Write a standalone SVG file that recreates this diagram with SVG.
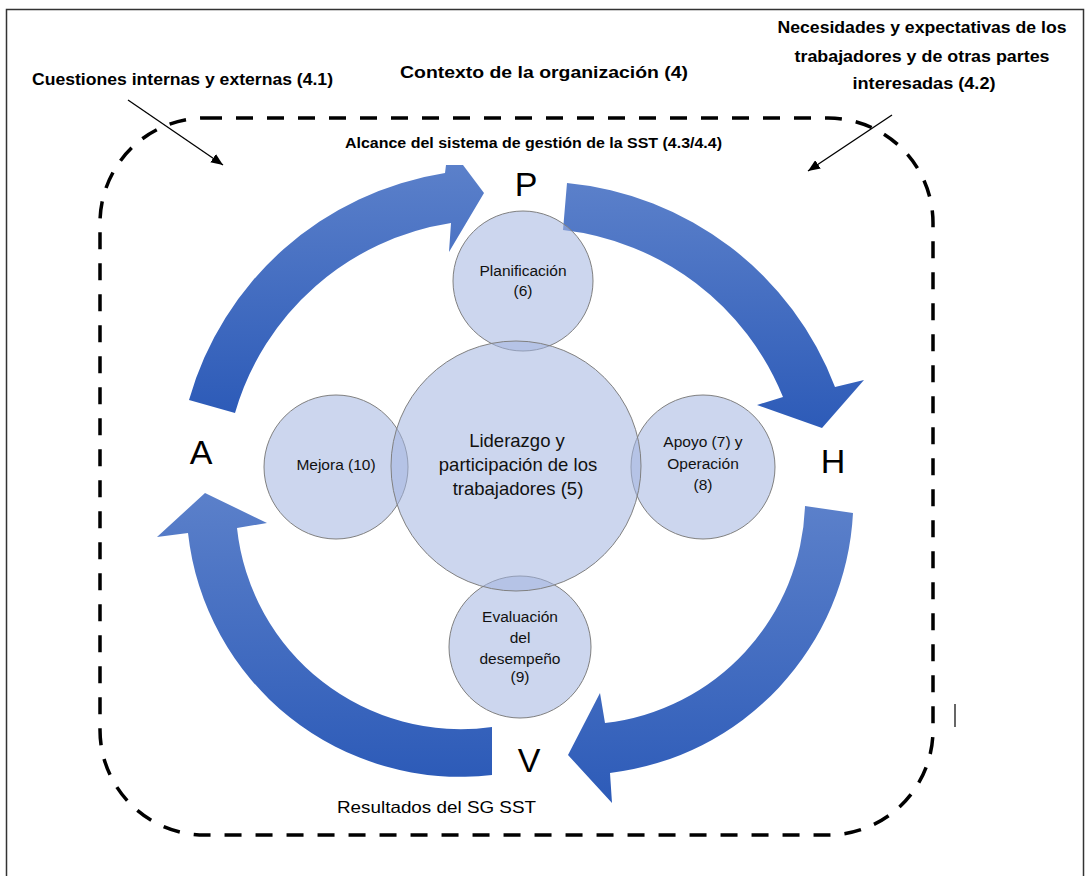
<svg xmlns="http://www.w3.org/2000/svg" width="1085" height="876" viewBox="0 0 1085 876">
  <defs>
    <linearGradient id="blueGrad" x1="0" y1="0" x2="0" y2="1">
      <stop offset="0" stop-color="#5b80ca"/>
      <stop offset="1" stop-color="#2d5bb8"/>
    </linearGradient>
    <marker id="arrowHead" viewBox="0 0 12 10" refX="12" refY="5" markerWidth="12" markerHeight="10" markerUnits="userSpaceOnUse" orient="auto">
      <path d="M0,0 L12,5 L0,10 z" fill="#000"/>
    </marker>
    <style>
      .lbl { font-family: "Liberation Sans", Arial, sans-serif; fill: #000; }
      .bold { font-weight: bold; }
      .big { font-size: 34px; text-anchor: middle; }
      .circ { fill: #a3b4e0; fill-opacity: 0.55; stroke: #808080; stroke-width: 1; }
      .ctext { font-family: "Liberation Sans", Arial, sans-serif; fill: #111; text-anchor: middle; font-size: 15.5px; }
      .ltext { font-family: "Liberation Sans", Arial, sans-serif; fill: #111; text-anchor: middle; font-size: 18.5px; }
      .cycle { fill: url(#blueGrad); }
      .pointer { stroke: #000; stroke-width: 1.3; fill: none; marker-end: url(#arrowHead); }
    </style>
  </defs>

  <rect x="0" y="0" width="1085" height="876" fill="#fff"/>

  <g id="frame">
    <rect x="6.5" y="9.5" width="1077" height="872" fill="none" stroke="#333" stroke-width="1.5"/>
  </g>

  <g id="scope-boundary">
    <rect x="100" y="118" width="833" height="717" rx="105" ry="105" fill="none" stroke="#000" stroke-width="3.5" stroke-dasharray="17 14"/>
  </g>

  <g id="texts-context">
    <text class="lbl bold" x="32" y="85" font-size="16.5" textLength="301" lengthAdjust="spacingAndGlyphs">Cuestiones internas y externas (4.1)</text>
    <text class="lbl bold" x="400" y="78" font-size="16.5" textLength="288" lengthAdjust="spacingAndGlyphs">Contexto de la organización (4)</text>
    <text class="lbl bold" x="922" y="33" font-size="16.5" text-anchor="middle" textLength="289" lengthAdjust="spacingAndGlyphs">Necesidades y expectativas de los</text>
    <text class="lbl bold" x="922" y="62" font-size="16.5" text-anchor="middle" textLength="255" lengthAdjust="spacingAndGlyphs">trabajadores y de otras partes</text>
    <text class="lbl bold" x="924" y="89" font-size="16.5" text-anchor="middle" textLength="143" lengthAdjust="spacingAndGlyphs">interesadas (4.2)</text>
    <text class="lbl bold" x="345" y="148" font-size="14" textLength="377" lengthAdjust="spacingAndGlyphs">Alcance del sistema de gestión de la SST (4.3/4.4)</text>
    <text class="lbl" x="337" y="813" font-size="16.5" textLength="199" lengthAdjust="spacingAndGlyphs">Resultados del SG SST</text>
  </g>

  <g id="connectors">
    <path id="arrow-A-P" class="cycle" d="M235,413 L189,400 A317,317 0 0 1 445,173 L446,165 L463,165 L484,193 L449,252 L451,223 A267,267 0 0 0 235,413 Z"/>
    <path id="arrow-P-H" class="cycle" d="M563,230 L567,183 A319,319 0 0 1 835,387 L864,380 L822,428 L757,405 L783,397 A270,270 0 0 0 563,230 Z"/>
    <path id="arrow-H-V" class="cycle" d="M805,506 L853,513 A276,276 0 0 1 610,773 L612,803 L568,755 L600,693 L605,723 A226,226 0 0 0 805,506 Z"/>
    <path id="arrow-V-A" class="cycle" d="M492,727 L492,775 A274,274 0 0 1 188,533 L157,537 L205,493 L267,523 L237,528 A225,225 0 0 0 492,727 Z"/>
    <line id="pointer-internal" class="pointer" x1="128" y1="100" x2="223" y2="165"/>
    <line id="pointer-needs" class="pointer" x1="892" y1="115" x2="808" y2="171"/>
  </g>

  <g id="node-P"><text class="lbl big" x="526" y="196">P</text></g>
  <g id="node-H"><text class="lbl big" x="833" y="473">H</text></g>
  <g id="node-A"><text class="lbl big" x="201" y="464">A</text></g>
  <g id="node-V"><text class="lbl big" x="529" y="772">V</text></g>

  <g id="node-planificacion">
    <circle class="circ" cx="523" cy="281" r="70"/>
    <text class="ctext" x="523" y="276">Planificación</text>
    <text class="ctext" x="523" y="296">(6)</text>
  </g>
  <g id="node-mejora">
    <circle class="circ" cx="336" cy="467" r="72"/>
    <text class="ctext" x="336" y="470">Mejora (10)</text>
  </g>
  <g id="node-apoyo">
    <circle class="circ" cx="703" cy="467" r="72"/>
    <text class="ctext" x="703" y="447">Apoyo (7) y</text>
    <text class="ctext" x="703" y="469">Operación</text>
    <text class="ctext" x="703" y="490">(8)</text>
  </g>
  <g id="node-evaluacion">
    <circle class="circ" cx="520" cy="647" r="71"/>
    <text class="ctext" x="520" y="622">Evaluación</text>
    <text class="ctext" x="520" y="643">del</text>
    <text class="ctext" x="520" y="664">desempeño</text>
    <text class="ctext" x="520" y="682">(9)</text>
  </g>
  <g id="node-liderazgo">
    <circle class="circ" cx="516" cy="466" r="125"/>
    <text class="ltext" x="517" y="447">Liderazgo y</text>
    <text class="ltext" x="518" y="471">participación de los</text>
    <text class="ltext" x="518" y="495">trabajadores (5)</text>
  </g>

  <line id="cursor-mark" x1="955" y1="704" x2="955" y2="727" stroke="#000" stroke-width="1.2"/>
</svg>
